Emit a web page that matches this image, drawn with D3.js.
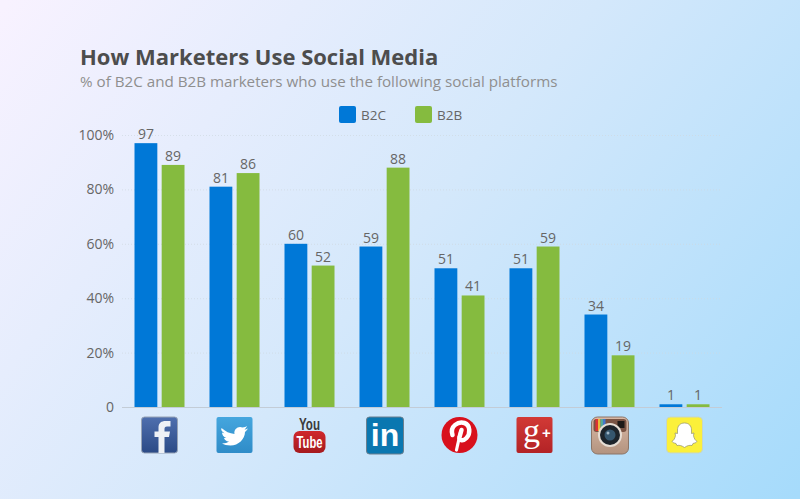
<!DOCTYPE html>
<html>
<head>
<meta charset="utf-8">
<script src="https://cdn.jsdelivr.net/npm/d3@7"></script>
<style>
html, body { margin: 0; padding: 0; background: #d5e8fb; overflow: hidden; }
text { font-family: "Open Sans", sans-serif; }
</style>
</head>
<body>
<div id="chart-area"></div>
<script>
const platforms = ["Facebook", "Twitter", "YouTube", "LinkedIn", "Pinterest", "Google+", "Instagram", "Snapchat"];
const seriesNames = ["B2C", "B2B"];
const b2c = [97, 81, 60, 59, 51, 51, 34, 1];
const b2b = [89, 86, 52, 88, 41, 59, 19, 1];
const yTicks = [0, 20, 40, 60, 80, 100];

const W = 800, H = 499;
const margin = {top: 135, right: 78, bottom: 92, left: 122};
const width = W - margin.left - margin.right;
const height = H - margin.top - margin.bottom;

const color = d3.scaleOrdinal().domain(seriesNames).range(["#0078d7", "#85bb3f"]);

const svg = d3.select("#chart-area").append("svg")
  .attr("width", W).attr("height", H).style("display", "block");

const defs = svg.append("defs");
const grad = defs.append("linearGradient")
  .attr("id", "bg").attr("gradientUnits", "userSpaceOnUse")
  .attr("x1", 40).attr("y1", -40).attr("x2", 760).attr("y2", 540);
grad.append("stop").attr("offset", "0").attr("stop-color", "#f8f2ff");
grad.append("stop").attr("offset", "0.5").attr("stop-color", "#d4e8fb");
grad.append("stop").attr("offset", "1").attr("stop-color", "#a6dbfb");

function vGrad(id, top, bottom) {
  const lg = defs.append("linearGradient").attr("id", id).attr("x2", 0).attr("y2", 1);
  lg.append("stop").attr("offset", 0).attr("stop-color", top);
  lg.append("stop").attr("offset", 1).attr("stop-color", bottom);
}
vGrad("fbGrad", "#4f6fae", "#2b4a86");
vGrad("twGrad", "#45a6de", "#2f8cc8");
vGrad("ytGrad", "#d0282c", "#a51a1e");
vGrad("gpGrad", "#d23a36", "#b32326");
vGrad("igGrad", "#d9b9a6", "#b3937f");

svg.append("rect").attr("width", W).attr("height", H).attr("fill", "url(#bg)");

svg.append("text").attr("x", 80).attr("y", 65)
  .attr("font-size", 22).attr("font-weight", 700).attr("fill", "#4d4d4d")
  .text("How Marketers Use Social Media");
svg.append("text").attr("x", 80).attr("y", 87)
  .attr("font-size", 15.2).attr("fill", "#8f8f8f")
  .text("% of B2C and B2B marketers who use the following social platforms");

const g = svg.append("g").attr("transform", `translate(${margin.left},${margin.top})`);

const x = d3.scaleBand().domain(platforms).range([0, width]).paddingInner(0.3333).paddingOuter(0.1667);
const x1 = d3.scaleBand().domain(seriesNames).range([0, x.bandwidth()]).paddingInner(0.16);
const y = d3.scaleLinear().domain([0, 100]).range([height, 0]);

// grid and y axis
const yAxis = g.append("g").call(d3.axisLeft(y).tickValues(yTicks)
  .tickSize(-width).tickPadding(8).tickFormat(d => d === 0 ? "0" : d + "%"));
yAxis.select(".domain").remove();
yAxis.selectAll(".tick line")
  .attr("stroke", "#cfd8e0").attr("stroke-opacity", 0.7).attr("stroke-dasharray", "1,2");
yAxis.selectAll(".tick text")
  .attr("font-size", 14).attr("fill", "#666").style("font-family", '"Open Sans", sans-serif');

// bars and labels
const values = {B2C: b2c, B2B: b2b};
seriesNames.forEach(name => {
  const s = g.append("g");
  s.selectAll("rect").data(values[name]).enter().append("rect")
    .attr("x", (d, i) => x(platforms[i]) + x1(name))
    .attr("y", d => y(d))
    .attr("width", x1.bandwidth())
    .attr("height", d => height - y(d))
    .attr("fill", color(name));
  s.selectAll("text").data(values[name]).enter().append("text")
    .attr("x", (d, i) => x(platforms[i]) + x1(name) + x1.bandwidth() / 2)
    .attr("y", d => y(d) - 4)
    .attr("text-anchor", "middle")
    .attr("font-size", 14).attr("fill", "#666")
    .text(d => d);
});

// baseline
g.append("line").attr("x1", 0).attr("x2", width).attr("y1", height + 0.5).attr("y2", height + 0.5)
  .attr("stroke", "#c3ccd6").attr("stroke-width", 1);

// legend
const legendX = d3.scaleOrdinal().domain(seriesNames).range([339, 415]);
const legend = svg.append("g").selectAll("g").data(seriesNames).enter().append("g")
  .attr("transform", d => `translate(${legendX(d)},106)`);
legend.append("rect").attr("width", 17).attr("height", 17).attr("rx", 2).attr("fill", d => color(d));
legend.append("text").attr("x", 22).attr("y", 14).attr("font-size", 13.5).attr("fill", "#666").text(d => d);

// platform icons, local coordinates are a 36x36 box centred on each band
const iconFont = '"Liberation Sans", sans-serif';
const icons = {
  Facebook(s) {
    s.append("rect").attr("x", -18).attr("width", 36).attr("height", 36).attr("rx", 3).attr("fill", "url(#fbGrad)").attr("stroke", "#97a3b5");
    s.append("path").attr("fill", "#eef1f6")
      .attr("d", "M-1 36V20H-5V14.500H-1V10.500C-1 6 2 4 6 4H11V9.500H7.500C5.500 9.500 5 10.500 5 12V14.500H10.500L9.500 20H5V36Z");
  },
  Twitter(s) {
    s.append("rect").attr("x", -18).attr("width", 36).attr("height", 36).attr("rx", 2).attr("fill", "url(#twGrad)");
    s.append("path").attr("fill", "#fff")
      .attr("d", "M-13 11C-9 14.500-5 16.500 0 17C-1 12 4 8.500 8 10.500C10 10.500 11.500 9.500 12.500 9C12 10.500 11 11.500 10 12.500C11 12.500 12.500 12 13.500 11.500C12.500 13 11.500 14 10.500 15C10.500 22 4 28.500-4 28.500C-7.500 28.500-10.500 27.500-12.500 26.500C-9.500 26.500-7 25.500-5.500 24.500C-8.500 24.500-10 22.500-10.500 21C-9.500 21-8.800 21-8.300 21C-11 20-12.500 17.500-12.500 15.500C-11.500 16-10.800 16.300-10 16.300C-12.500 14.500-14 13-13 11Z");
  },
  YouTube(s) {
    s.append("text").attr("x", 0).attr("y", 12.5).attr("text-anchor", "middle")
      .attr("font-size", 16).attr("font-weight", 700).attr("fill", "#3a3a3a").style("font-family", iconFont)
      .attr("textLength", 21).attr("lengthAdjust", "spacingAndGlyphs").text("You");
    s.append("rect").attr("x", -16).attr("y", 14).attr("width", 32).attr("height", 22).attr("rx", 6).attr("fill", "url(#ytGrad)");
    s.append("text").attr("x", 0).attr("y", 31).attr("text-anchor", "middle")
      .attr("font-size", 16).attr("font-weight", 700).attr("fill", "#fff").style("font-family", iconFont)
      .attr("textLength", 26).attr("lengthAdjust", "spacingAndGlyphs").text("Tube");
  },
  LinkedIn(s) {
    s.append("rect").attr("x", -18).attr("width", 37).attr("height", 37).attr("rx", 3).attr("fill", "#0a77b0").attr("stroke", "#6b7f8e");
    s.append("text").attr("x", 0.5).attr("y", 29).attr("text-anchor", "middle")
      .attr("font-size", 32).attr("font-weight", 700).attr("fill", "#fff").style("font-family", iconFont).text("in");
  },
  Pinterest(s) {
    s.append("circle").attr("cy", 18).attr("r", 18).attr("fill", "#d8101c");
    s.append("path").attr("fill", "none").attr("stroke", "#fff").attr("stroke-width", 4.5).attr("stroke-linecap", "round")
      .attr("d", "M-7 18C-10 9 -1 4 5 6C11 8 11 17 7 21C3 25-1 23 0 20L2 13");
    s.append("path").attr("fill", "none").attr("stroke", "#fff").attr("stroke-width", 3.2).attr("stroke-linecap", "round")
      .attr("d", "M1 15L-3 33");
  },
  "Google+"(s) {
    s.append("rect").attr("x", -18).attr("width", 36).attr("height", 36).attr("rx", 2).attr("fill", "url(#gpGrad)");
    s.append("text").attr("x", -3).attr("y", 25).attr("text-anchor", "middle")
      .attr("font-size", 34).attr("fill", "#fff").style("font-family", '"Liberation Serif", serif').text("g");
    s.append("text").attr("x", 12).attr("y", 21).attr("text-anchor", "middle")
      .attr("font-size", 15).attr("font-weight", 700).attr("fill", "#fff").style("font-family", iconFont).text("+");
  },
  Instagram(s) {
    s.append("rect").attr("x", -18).attr("width", 37).attr("height", 37).attr("rx", 6).attr("fill", "url(#igGrad)").attr("stroke", "#8b7568");
    s.append("rect").attr("x", -16).attr("y", 2).attr("width", 33).attr("height", 13).attr("rx", 3).attr("fill", "#7a5444");
    [["#d33", -14], ["#e9b93c", -11.5], ["#5a9", -9], ["#47c", -6.5]].forEach(b => {
      s.append("rect").attr("x", b[1]).attr("y", 2).attr("width", 2.5).attr("height", 12).attr("fill", b[0]);
    });
    s.append("rect").attr("x", 8).attr("y", 4).attr("width", 7).attr("height", 7).attr("fill", "#1e1a18");
    s.append("circle").attr("cx", 0.5).attr("cy", 18).attr("r", 12).attr("fill", "#e6ddd4");
    s.append("circle").attr("cx", 0.5).attr("cy", 18).attr("r", 10).attr("fill", "#1d242b");
    s.append("circle").attr("cx", 0.5).attr("cy", 18).attr("r", 5.5).attr("fill", "#35566e");
    s.append("circle").attr("cx", -1.5).attr("cy", 16).attr("r", 1.5).attr("fill", "#9fb6c6");
  },
  Snapchat(s) {
    s.append("rect").attr("x", -18).attr("width", 36).attr("height", 36).attr("rx", 4).attr("fill", "#fbf03a").attr("stroke", "#c6d5c8");
    s.append("path").attr("fill", "#fff").attr("stroke", "#8f8f70").attr("stroke-width", 0.7)
      .attr("d", "M0 6C4.500 6 7 9 7 13V16.500L9.500 16L9 18.500C9.500 21.500 11 23.500 12.500 24.500C11.500 26 10 26 8.500 26.500L7.500 28.500C5 28 3 28.500 0 30.500C-3 28.500-5 28-7.500 28.500L-8.500 26.500C-10 26-11.500 26-12.500 24.500C-11 23.500-9.500 21.500-9 18.500L-9.500 16L-7 16.500V13C-7 9-4.500 6 0 6Z");
  }
};

const iconRow = svg.append("g").attr("transform", `translate(${margin.left},417)`);
platforms.forEach(p => {
  const s = iconRow.append("g").attr("transform", `translate(${x(p) + x.bandwidth() / 2},0)`);
  icons[p](s);
});
</script>
</body>
</html>
